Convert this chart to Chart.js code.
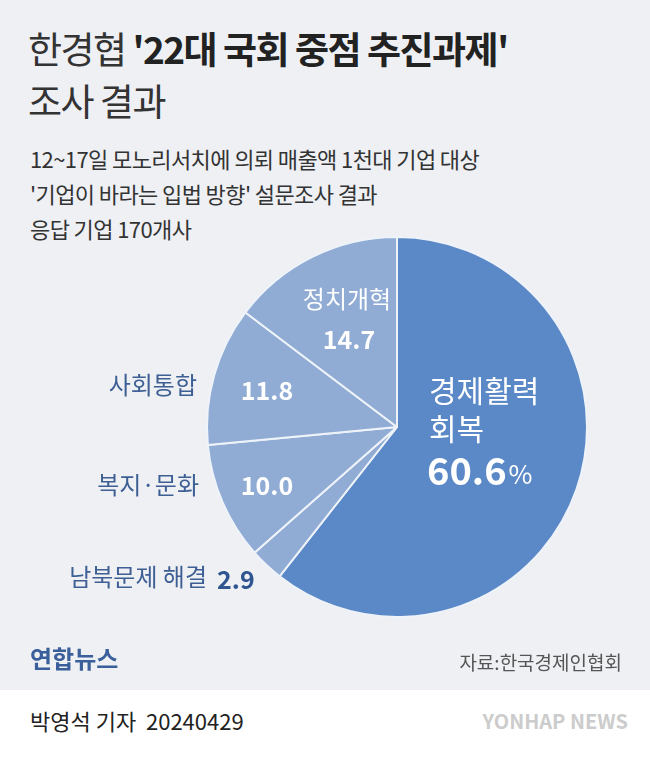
<!DOCTYPE html>
<html><head><meta charset="utf-8">
<script src="https://cdn.jsdelivr.net/npm/chart.js@4"></script>
<style>
body{margin:0;width:650px;height:759px;overflow:hidden;background:#eef0f4;font-family:"Noto Sans CJK KR","Noto Sans",sans-serif;position:relative}
.t{position:absolute;left:28px;top:22px;font-size:37px;line-height:52px;color:#333;letter-spacing:-1.5px}
.t b{color:#222}
.s{position:absolute;left:30px;top:141px;font-size:22px;line-height:35px;color:#333;letter-spacing:-0.6px}
canvas{position:absolute;left:0;top:0}
.logo{position:absolute;left:30px;top:640px;font-size:24px;font-weight:bold;color:#3a5f9a}
.src{position:absolute;right:28px;top:648px;font-size:19px;color:#555}
.foot{position:absolute;left:0;top:690px;width:650px;height:69px;background:#fff}
.foot span{position:absolute;left:30px;top:14px;font-size:22px;color:#222}
.foot i{position:absolute;right:22px;top:16px;font-style:normal;font-weight:bold;font-size:20px;color:#ccc}
</style></head><body>
<div class="t">한경협 <b>'22대 국회 중점 추진과제'</b><br>조사 결과</div>
<div class="s">12~17일 모노리서치에 의뢰 매출액 1천대 기업 대상<br>'기업이 바라는 입법 방향' 설문조사 결과<br>응답 기업 170개사</div>
<canvas id="c" width="650" height="759"></canvas>
<div class="logo">연합뉴스</div>
<div class="src">자료:한국경제인협회</div>
<div class="foot"><span>박영석 기자&nbsp; 20240429</span><i>YONHAP NEWS</i></div>
<script>
const categories = ['경제활력 회복', '남북문제 해결', '복지·문화', '사회통합', '정치개혁'];
const values = [60.6, 2.9, 10.0, 11.8, 14.7];
const sliceColors = ['#5b88c6', '#90acd4', '#90acd4', '#90acd4', '#90acd4'];

// labels drawn at arc positions
const labelPlugin = {
  id: 'labels',
  afterDatasetsDraw(chart) {
    const ctx = chart.ctx;
    const arcs = chart.getDatasetMeta(0).data;
    const ff = '"Noto Sans CJK KR", sans-serif';
    function txt(s, x, y, font, color, align) {
      ctx.font = font; ctx.fillStyle = color; ctx.textAlign = align || 'left'; ctx.textBaseline = 'middle';
      ctx.fillText(s, x, y);
    }
    const cx = arcs[0].x, cy = arcs[0].y;
    // big slice
    txt('경제활력', cx + 32, cy - 36, '30px ' + ff, '#fff');
    txt('회복', cx + 32, cy + 2, '30px ' + ff, '#fff');
    ctx.font = 'bold 38px ' + ff;
    const w = ctx.measureText(values[0].toFixed(1)).width;
    txt(values[0].toFixed(1), cx + 30, cy + 44, 'bold 38px ' + ff, '#fff');
    txt('%', cx + 30 + w + 2, cy + 47, '26px ' + ff, '#fff');
    // 정치개혁
    txt('정치개혁', cx - 50, cy - 128, '24px ' + ff, '#fff', 'center');
    txt(values[4].toFixed(1), cx - 48, cy - 88, 'bold 25px ' + ff, '#fff', 'center');
    // 사회통합
    txt(values[3].toFixed(1), cx - 130, cy - 37, 'bold 25px ' + ff, '#fff', 'center');
    txt('사회통합', cx - 200, cy - 42, '24px ' + ff, '#3d5f94', 'right');
    // 복지문화
    txt(values[2].toFixed(1), cx - 130, cy + 58, 'bold 25px ' + ff, '#fff', 'center');
    txt(categories[2], cx - 198, cy + 58, '24px ' + ff, '#3d5f94', 'right');
    // 남북문제
    txt(values[1].toFixed(1), cx - 180, cy + 152, 'bold 25px ' + ff, '#2f5590', 'left');
    txt(categories[1], cx - 190, cy + 150, '24px ' + ff, '#3d5f94', 'right');
  }
};

new Chart(document.getElementById('c'), {
  type: 'pie',
  data: { labels: categories, datasets: [{ data: values, backgroundColor: sliceColors, borderColor: '#eef3fa', borderWidth: 2 }] },
  options: {
    responsive: false, animation: false,
    layout: { padding: { left: 206, right: 62, top: 236, bottom: 141 } },
    plugins: { legend: { display: false }, tooltip: { enabled: false } }
  },
  plugins: [labelPlugin]
});
</script>
</body></html>
